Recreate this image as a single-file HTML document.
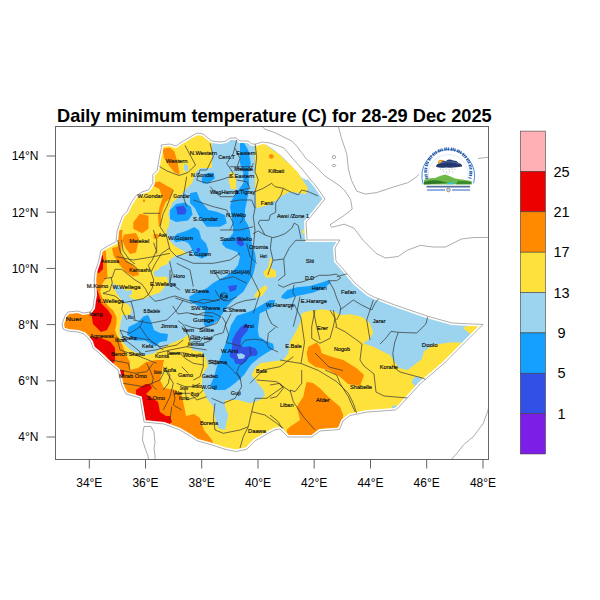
<!DOCTYPE html>
<html><head><meta charset="utf-8">
<style>
html,body{margin:0;padding:0;background:#fff;width:600px;height:600px;overflow:hidden}
svg{display:block;font-family:"Liberation Sans",sans-serif}
</style></head><body>
<svg width="600" height="600" viewBox="0 0 600 600">
<rect width="600" height="600" fill="#fff"/>
<text x="57" y="121.8" font-size="18.2" font-weight="bold" fill="#000">Daily minimum temperature (C) for 28-29 Dec 2025</text>
<defs><clipPath id="eth"><polygon points="161.5,147.6 161,145 170,144 176,146 180,143 190,137 197,133 203,134 208,138 212,141 220,142 226,141 230,138 236,138 240,141 248,141 252,144 256,144 262,142 270,143 276,145 284,148 294,160 302,169 310,179 316,186 325,199 308,220 306,222 307,240 340,240 335,248 336,261 344,270 355,283 368,294 374,297 395,305 427,316 452,323 483,324.5 444.5,363 420,384 399,407 395.5,410 367.5,412 350,415.5 343,421 339.5,429.5 320,431 312,437 288,437 280,429 274.8,429.8 265,435 255.3,440.7 246.7,449.3 235.8,451.5 225,449.3 212,445 196.8,440.7 190,436 179.5,429.8 164,424 144,422 142,410 140,398 126,394 122,386 120,378 118,370 106,360 103,357 98,352 93,348 91,342 88,338 84,334 78,332 68,331 63,329 62,324 65,316 68,312 78,311 83,313 90,312 93,308 94,300 95,295 94.2,280 95,272 98.7,261.3 100.8,250.5 107.3,246.2 116,241.8 117.1,231 119.3,224.5 122.5,215.8 126.8,211.5 131.2,202.8 135.5,196.3 142,192 148.5,189.8 152.8,183.3 152.8,174.7 157.2,170.3 159.3,157.3"/></clipPath></defs>
<polygon points="161.5,147.6 161,145 170,144 176,146 180,143 190,137 197,133 203,134 208,138 212,141 220,142 226,141 230,138 236,138 240,141 248,141 252,144 256,144 262,142 270,143 276,145 284,148 294,160 302,169 310,179 316,186 325,199 308,220 306,222 307,240 340,240 335,248 336,261 344,270 355,283 368,294 374,297 395,305 427,316 452,323 483,324.5 444.5,363 420,384 399,407 395.5,410 367.5,412 350,415.5 343,421 339.5,429.5 320,431 312,437 288,437 280,429 274.8,429.8 265,435 255.3,440.7 246.7,449.3 235.8,451.5 225,449.3 212,445 196.8,440.7 190,436 179.5,429.8 164,424 144,422 142,410 140,398 126,394 122,386 120,378 118,370 106,360 103,357 98,352 93,348 91,342 88,338 84,334 78,332 68,331 63,329 62,324 65,316 68,312 78,311 83,313 90,312 93,308 94,300 95,295 94.2,280 95,272 98.7,261.3 100.8,250.5 107.3,246.2 116,241.8 117.1,231 119.3,224.5 122.5,215.8 126.8,211.5 131.2,202.8 135.5,196.3 142,192 148.5,189.8 152.8,183.3 152.8,174.7 157.2,170.3 159.3,157.3" fill="#FFE13C"/>
<g clip-path="url(#eth)">
<polygon fill="#9CD3EE" points="212,128 345,128 345,200 345,262 370,285 495,320 490,330 470,350 460.7,342.4 449.7,342.4 433,345 424,351.5 422,359 407.5,370 399,368 390,355 383.3,351.7 373.3,346.7 363.3,343.3 368.3,340 373.3,333.3 370,323.3 361.7,316.7 350,314.2 340,315 335,311.7 323.3,309.2 310,310.8 301.7,313.3 300,323.3 295,333.3 290,341.7 288.3,353.3 283.3,360 270,361.7 260,363.3 255,368.3 251.7,375 256.7,381.7 263.3,390 265,395 260,400 250,403.3 238.3,400 225,400 225,406.7 228.3,415 225,430 218.3,428.3 215,418.3 213.3,406.7 206.7,398.3 201.7,385 203,374 208,366 206,358 202,352 192,350 190,340 188,334 184,338 170,344 162,348 152.5,354 142,355.5 130,349.5 122.5,342 119.5,334.5 119.5,328.5 121,321 122.5,315 130,315 131.5,310.5 130,306 122.5,301.5 118,295.5 113.5,288 112,283.5 116.5,285 122.5,288 127,291 131.5,289.5 132.3,294 128.5,295.5 131.5,298.5 137.5,300 145,298.5 151,295.5 160,292.5 165,286.7 168.3,281.7 166.7,276.7 155,276.7 153.3,271.7 158,270 160.5,266.7 167.5,264.3 169.8,259.7 173.3,257.3 176.8,255 183.8,255 186.2,253.8 182.7,250.3 175.7,246.8 171,242.2 167.5,236.3 166.3,230.5 168.7,227 169.8,220 168,214 172,203 180,196 187,188 192,183 196,172 200,168 212,168"/>
<polygon fill="#FFE13C" points="255,128 268,128 266,145 280,155 287,162 296,166 300,176 308,188 306,194 290,191.7 283.3,195 276.7,200 268.3,205 256.7,208.3 255,190"/>
<polygon fill="#FFE13C" points="229,173 234,172 236,178 236,189 231,189 229,182"/>
<polygon fill="#FFE13C" points="263,272 268,268 270,258 272,258 271,268 276,271 276,277 266,278"/>
<polygon fill="#FFE13C" points="254,296 258,290 266,285 267.5,288 262,296 256,298"/>
<polygon fill="#FFE13C" points="302,231 306,228 307,233 303,234"/>
<polygon fill="#FFE13C" points="462.6,327.7 473.6,324 484,324 471.7,335"/>
<polygon fill="#fff" points="262,140 276,143 284,146 294,157 303,167 310,177 306.7,180 301.7,177.7 296.7,171 290,164.3 281.7,156 273.3,149.3 266.7,145"/>
<polygon fill="#9CD3EE" points="184,164 187.5,165 188.7,170 186,172 184,169"/>
<polygon fill="#9CD3EE" points="413,378 419,376.5 422,379 420,385 416,387 412,383"/>
<polygon fill="#9CD3EE" points="392,406 396,405 399,408 398,412 392,412"/>
<polygon fill="#14A0FF" points="240,143.3 243.3,141.7 248.3,150 250.8,163.3 248.3,173.3 249.2,183.3 248.3,193.3 246.7,201.7 245,210 245,220 248,225 250,231 251,240 252,245 255,253 256,260 255,267 253,275 250,280 243.3,291.7 235,298.3 226.7,306.7 221.7,315 218.3,320 211.7,325 205,326.7 203.3,321.7 205,310 196.7,305 190,301.7 189.2,296.7 195,293.3 206.7,288.3 213,283 220,279 228,275 234,270 238,265 240,257 237,252 232,250 226,248 222,244 223,240 230,237 233,233 233.3,230 231.7,216.7 230,206.7 231.7,200 238.3,190 243.3,183.3 243.3,173.3 240,163.3"/>
<polygon fill="#14A0FF" points="231,325.2 236.8,315.8 248.5,312 263,306 270.5,300 275,300 273.3,305 260,310.5 257.8,329.8 259,336.8 267.2,341.5 273,343.8 274.2,348.5 266,353.2 259,357.8 250.8,364.8 243.8,375.3 237.5,381 230,387 225,390 214,390 210,386 213.5,378 217,366 221.7,354.3 226.3,341.5"/>
<polygon fill="#14A0FF" points="240,320 253,310 270,300 275,301.7 273.3,306.7 256.7,315 248.3,320"/>
<polygon fill="#14A0FF" points="282,295.3 287.3,290 296.7,287.3 310,286 323.3,282 328.7,280 330.7,282.7 323.3,288.7 312.7,292.7 296.7,296 286,299.3 281.3,298"/>
<polygon fill="#14A0FF" points="190,193.3 196.7,191.7 200,200 208.3,210 216.7,211.7 225,215 226.7,223.3 220,226.7 206.7,226.7 200,218.3 195,208.3 190,203.3"/>
<polygon fill="#14A0FF" points="170,210 176,204 185,202.5 191,207 192.5,214.5 188,220.5 176,222 170,219"/>
<polygon fill="#14A0FF" points="173.3,237.5 176.8,234 187.3,230.5 194.3,227 199,230.5 201.3,238.7 206,243.3 208.3,250.3 207.2,256.2 201.3,258.5 194.3,255 192,249.2 188.5,243.3 183.8,241 175.7,242.2 173.3,239.8"/>
<polygon fill="#14A0FF" points="201.7,178.3 206.7,173.3 213.3,172.5 215,178.3 208.3,183.3 202.5,183.3"/>
<polygon fill="#14A0FF" points="128.5,327 137.5,322.5 143.5,316.5 148,315 151,321 154,330 160,333 168,334 167,341 160,342 155.5,346.5 145,340.5 134.5,340.5 127,334.5"/>
<polygon fill="#3050E6" points="176,207 183.5,205.5 186.5,210 185,214.5 177.5,214.5"/>
<polygon fill="#3050E6" points="236,238 239,236.5 243,240 244,245 241,246.5 237,244"/>
<polygon fill="#3050E6" points="228,286 237,285 236,290 230,292"/>
<polygon fill="#3050E6" points="245,324 249.7,325.2 247.3,331 241.5,338 240.3,345 243.8,347.3 249.7,346.2 255.5,348.5 257.8,352 256.7,355.5 248.5,356.7 246.2,361.3 241.5,364.8 235.7,363.7 233.3,359 229.8,356.7 229.8,353.2 232.2,347.3 232.2,340.3 235.7,333.3 240.3,327.5"/>
<polygon fill="#3050E6" points="196.7,248 200.2,248.5 200.2,251.5 197,251.5"/>
<polygon fill="#9CD3EE" points="236.8,354 241,353.2 245,355 244,358.5 238.5,359"/>
<polygon fill="#FF8A00" points="162.5,148.5 170,147.7 174.5,151.5 177.5,162 179.7,174.7 174.5,172.5 168.5,165 164,157.5"/>
<polygon fill="#FF8A00" points="143,199.5 145,199.5 145,202 143,202"/>
<polygon fill="#FF8A00" points="152,183 159.5,181.5 167,186 173,189 170,198 165.5,202.5 162.5,210 161,216 161,226 158.8,226 158,216 159.5,207 162.5,198 159.5,189 153.5,186"/>
<polygon fill="#FF8A00" points="133.3,222.3 139.8,213.7 148.5,215.8 148.5,228.8 142,233.2 133.3,228.8"/>
<polygon fill="#FF8A00" points="124,234.5 136,233 139,239 136,252.5 130,254 125.5,248 122,240"/>
<polygon fill="#FF8A00" points="112,248 118,246.5 118,230 122.5,230 121,255.5 130,263 137.5,269 139,275 133,276.5 125.5,272 118,263 113.5,255.5"/>
<polygon fill="#FF8A00" points="153.5,234 158.2,234 158.2,238.7 153.5,238.7"/>
<polygon fill="#FF8A00" points="95,240 104.5,246.5 106,252.5 107.5,276.5 103,282.5 100,291.5 103,299 107.5,305 113.5,311 116.5,317 116.5,324 115,330 116.5,334.5 122.5,345 125.5,354 130,362 130,370 138,368 146,362 156,360 164,360 162,370 160,380 164,388 176,390 182,396 184,406 186,416 194,414 200,418 204,430 212,440 216,452 100,460 50,340 50,300 90,245"/>
<polygon fill="#FF8A00" points="306.7,353.3 308.3,346.7 316.7,342.5 320,346.7 321.7,353.3 331.7,356.7 343.3,360 356.7,368.3 364,375 360,386 348,384 340,376.7 328.3,370 315,366.7 308.3,361.7"/>
<polygon fill="#FF8A00" points="306.7,381.7 313.3,383.3 320,388.3 328.3,396.7 340,406.7 343.3,415 341.7,425 336.7,428.3 316.7,431.7 311.7,440 288,440 286.7,430 290,426.7 300,420 296.7,406.7 303.3,396.7 305,388.3"/>
<polygon fill="#FF8A00" points="271.3,154 273,154.6 273.7,156.4 273,158.2 271.3,158.8 269.6,158.2 268.9,156.4 269.6,154.6"/>
<polygon fill="#EC0000" points="97.7,255.5 103,255.5 103,269 98.5,273.5 95,268"/>
<polygon fill="#EC0000" points="92,286 96,286 100,298 101,303 108,310 112,316 111,322 107,330 101,332 93,324 91,312 90,290"/>
<polygon fill="#EC0000" points="90,337 100,337.5 110.5,342 115,348 115,360 113,364 105,355 93,347"/>
<polygon fill="#EC0000" points="118,370 124,370 124,376 120,378"/>
<polygon fill="#EC0000" points="136,390 142,386 146,384 150,384 152,388 146,394 158,402 160,412 166,416 170,416 172,422 166,426 144,426 142,410 140,398 136,394"/>
</g>
<polygon points="161.5,147.6 161,145 170,144 176,146 180,143 190,137 197,133 203,134 208,138 212,141 220,142 226,141 230,138 236,138 240,141 248,141 252,144 256,144 262,142 270,143 276,145 284,148 294,160 302,169 310,179 316,186 325,199 308,220 306,222 307,240 340,240 335,248 336,261 344,270 355,283 368,294 374,297 395,305 427,316 452,323 483,324.5 444.5,363 420,384 399,407 395.5,410 367.5,412 350,415.5 343,421 339.5,429.5 320,431 312,437 288,437 280,429 274.8,429.8 265,435 255.3,440.7 246.7,449.3 235.8,451.5 225,449.3 212,445 196.8,440.7 190,436 179.5,429.8 164,424 144,422 142,410 140,398 126,394 122,386 120,378 118,370 106,360 103,357 98,352 93,348 91,342 88,338 84,334 78,332 68,331 63,329 62,324 65,316 68,312 78,311 83,313 90,312 93,308 94,300 95,295 94.2,280 95,272 98.7,261.3 100.8,250.5 107.3,246.2 116,241.8 117.1,231 119.3,224.5 122.5,215.8 126.8,211.5 131.2,202.8 135.5,196.3 142,192 148.5,189.8 152.8,183.3 152.8,174.7 157.2,170.3 159.3,157.3" fill="none" stroke="#fff" stroke-width="4"/>
<g fill="none" stroke="#888" stroke-width="0.7">
<polyline points="261.7,126 265,129.3 275,132.7 285,137.7 291.7,141 296.7,146 301.7,152.7 306.7,159.3 313.3,164.3 318.3,169.3 325,176 335,182.7 340,186 344.3,190 350.6,199.5 352.2,209 344.3,215.3 334.8,221.6 330,224.8 331.6,227.3 344.3,224.2 353.8,228 363.3,240.6 376,253.3 385.4,258 398.1,256.5 407.6,250.1 420.3,245.4 432.9,247 445.6,247 461.4,239 474,237.5 488.5,237.5"/>
<polyline points="338.4,126.5 341.2,137.3 346.9,154.3 348.3,168.5 351.2,179.8 356.8,191.2 365.3,194 376.7,192.6 393.7,186.9 407.8,182.7 416.3,177 419.2,174.2 430,168 470,160 477.2,158.6 488.5,157.2"/>
<ellipse cx="334" cy="157" rx="1.8" ry="1.5"/>
<ellipse cx="334" cy="165.5" rx="1.8" ry="1.2"/>
<polyline points="488.5,408 487.5,411.7 483.3,423.3 473.3,436.7 463.3,445 458.3,451.7 451.7,459"/>
<path d="M148.5,459.5 L148,456 145,448 142.5,440 143,432 144,426.5 151,426.5 154,432 155,443 154,448 155,456 155,459.5"/>
</g>
<!--admin--><circle cx="223.8" cy="296.3" r="3.6" fill="none" stroke="#333" stroke-width="0.7"/><g clip-path="url(#eth)" fill="none" stroke="#333" stroke-width="0.7" stroke-linejoin="round"><polyline points="185,145.5 195.5,165 188,172.5 179,175.5 167,171 159.5,166.5"/>
<polyline points="210,143.3 213.3,156.7 206.7,170 200,170"/>
<polyline points="200,170 196.7,180 206.7,183.3 220,180 230,176.7 233.3,173.3"/>
<polyline points="236.7,140 233.3,153.3 226.7,163.3 233.3,173.3"/>
<polyline points="230,166.7 253.3,166.7"/>
<polyline points="236.7,180 246.7,181.7 250,188.3 240,190"/>
<polyline points="230,201.7 240,200 251.7,200 255,208.3"/>
<polyline points="238.3,213.3 243.3,218.3 240,223.3"/>
<polyline points="258.3,223 265,235 273,237.7 278.3,236.3 285,233.7 291.7,228.3 294.3,223 298.3,225.7 301,239"/>
<polyline points="235,148.3 240,158.3 236.7,168.3 250,170 253.3,163.3"/>
<polyline points="186.7,176.7 183.3,196.7 186.7,206.7"/>
<polyline points="173.3,190 166.7,206.7 163.3,213.3 160,226.7 166.7,236.7"/>
<polyline points="210,186.7 220,196.7 233.3,196.7 240,190"/>
<polyline points="193.3,200 213.3,206.7 226.7,210 233.3,223.3 230,230"/>
<polyline points="143.3,213.3 160,213.3"/>
<polyline points="166.7,236.7 170,250 176.7,256.7 193.3,250"/>
<polyline points="153.3,230 156.7,240 156.7,253.3"/>
<polyline points="116.7,256.7 133.3,260 153.3,256.7 170,253.3"/>
<polyline points="104.3,278.7 112.3,277.3 115,269.3 121.7,269.3 128.3,274.7 135,280 141.7,284 145.7,289.3 148.3,294.7"/>
<polyline points="117.7,240 120.3,252 125.7,261.3 133.7,265.3 137.7,269.3"/>
<polyline points="121.7,240 123,250.7 129.7,260 135,264"/>
<polyline points="153.7,242.7 156.3,250.7 152.3,260 148.3,265.3 151,272 153.7,280 152.3,288 148.3,294.7"/>
<polyline points="169.7,248 161.7,253.3 155,264 151,272"/>
<polyline points="169.7,261.3 172.3,273.3 169.7,282.7"/>
<polyline points="170,270 170,283.3 180,290"/>
<polyline points="176.7,263.3 190,270 193.3,286.7"/>
<polyline points="176.7,256.7 193.3,263.3 213.3,263.3 230,260 240,253.3"/>
<polyline points="111,277.3 112.3,282.7 109.7,290.7 103,293.3"/>
<polyline points="103,293.3 115,296 123,302.7 121.7,309.3 124.3,314.7 127,320"/>
<polyline points="123,302.7 131,301.3 143,298.7 148.3,294.7"/>
<polyline points="131,301.3 133.7,310.7 135,320"/>
<polyline points="148.3,294.7 155,301.3 161.7,300 169.7,297.3 175,296 186.7,300"/>
<polyline points="213.3,270 220,280 233.3,276.7 246.7,283.3"/>
<polyline points="186.7,300 203.3,303.3 220,300"/>
<polyline points="190,313.3 213.3,316.7"/>
<polyline points="220,230 240,230 253.3,226.7"/>
<polyline points="246.7,243.3 250,256.7 256.7,263.3"/>
<polyline points="255,143.3 256.7,156.7 255,171.7 258.3,180 255,191.7 255,208.3 253.3,216.7 255,230 253.3,246.7 250,273.3 260,293.3 253.3,313.3"/>
<polyline points="255,191.7 263.3,188.3 271.7,183.3 275,186.7 283.3,188.3 290,191.7 298.3,195 301.7,190 308.3,191.7 318,196"/>
<polyline points="283.3,188.3 281,195 275.7,203 275.7,212.3 270.3,215 269,220.3 259.7,220.3 258.3,223"/>
<polyline points="271.7,237.7 270.3,248.3 273,260.3 283.7,259 289,248.3 295.7,240.3 306.3,240.3"/>
<polyline points="283.7,259 285,275 278,280.7"/>
<polyline points="273,260.3 267.7,275"/>
<polyline points="278,284.7 283.3,287.3 292.7,283.3 302,282 310,279.3 319.3,275.3 328.7,275.3 336.7,274 340.7,278 336.7,280.7 328.7,280.7"/>
<polyline points="294,284.7 292.7,292.7 295.3,296.7 292.7,303.3 291.3,310"/>
<polyline points="328.7,280.7 334,290 336.7,298 340.7,307.3 340,313.3 336.7,320"/>
<polyline points="300,296.7 296.7,313.3 293.3,326.7"/>
<polyline points="313.3,310 316.7,326.7 320,340"/>
<polyline points="333.3,310 336.7,326.7"/>
<polyline points="373.3,300 366.7,320 370,340"/>
<polyline points="266,310 268.3,317 271.8,324 277.7,327.5"/>
<polyline points="267.2,343.8 268.3,333.3 275.3,327.5"/>
<polyline points="253,233.7 258.3,231 265,235"/>
<polyline points="133.3,320 150,323.3 166.7,320 176.7,310 183.3,300"/>
<polyline points="130,336.7 150,340 163.3,350"/>
<polyline points="116.7,336.7 120,350 140,356.7 156.7,363.3"/>
<polyline points="156.7,353.3 170,350 186.7,346.7 206.7,350"/>
<polyline points="123.3,383.3 143.3,386.7 160,380 166.7,366.7"/>
<polyline points="163.3,366.7 173.3,383.3 170,396.7 163.3,410"/>
<polyline points="176.7,393.3 190,393.3 196.7,400 206.7,396.7"/>
<polyline points="215,403.3 213.3,418.3 215,430 223.3,433.3 240,430 248.3,426.7"/>
<polyline points="211.7,398.3 223.3,403.3 235,398.3 241.7,386.7 240,376.7 233.3,371.7"/>
<polyline points="255,398.3 251.7,411.7 248.3,426.7 243.3,436.7 240,448"/>
<polyline points="251.7,411.7 265,415 276.7,423.3 283.3,428.3"/>
<polyline points="250,383.3 263.3,370 280,366.7 293.3,356.7"/>
<polyline points="256.7,380 276.7,381.7 283.3,386.7 266.7,398.3 255,398.3"/>
<polyline points="249.7,347.3 250.8,354.3 245,361.3 239.2,366 236.8,371.8 240.3,380"/>
<polyline points="232.2,343.8 240.3,346.2 245,340.3 254.3,339.2 262.5,340.3 267.2,343.8 268.3,347.3 273,349.7 278,352"/>
<polyline points="340,310 353.3,300 361.7,305 371.7,310 375,303.3 380,297"/>
<polyline points="294,304 301,318 304.5,342.5 301,363.5"/>
<polyline points="315,310 311.7,326.7 311.7,338.3 320,343.3 330,338.3 333.3,326.7 335,318.3 330,310"/>
<polyline points="335,326.7 345,331.7 356.7,340 362,344"/>
<polyline points="427.7,316.7 425.9,324 416.7,333 398.3,332.3 391,331.4 385.5,338.7 380,344"/>
<polyline points="398.3,332.3 394.7,342.4 392.8,353.4 394.7,368 400,372 423.3,378.3 428,381"/>
<polyline points="362,344 360,360 364,366 374,374 376,392 384,396 408,398"/>
<polyline points="280,360 301,363.5 318.5,370.5 336.7,381.7 348.3,393.3 353.3,403.3 356.7,413.3"/>
<polyline points="290,390 295,391.7 301.7,383.3 301.7,370"/>
<polyline points="290,390 293.3,401.7 296.7,406.7 303.3,416.7 315,430"/>
<polyline points="270,385 280,383.3 283.3,388.3 276.7,396.7 270,398.3"/>
<polyline points="325,370 336.7,375 340,383.3 348.3,396.7 355,411.7"/>
<polyline points="270,415 278.3,421.7 281.7,428.3"/>
<polyline points="280,384.5 290.5,391.5"/>
<polyline points="315,353 329,367 343,370.5"/>
<polyline points="336.7,276.7 360,270 380,290"/>
<polyline points="120,330 130,333.3 140,326.7 143.3,320"/>
<polyline points="120,330 125,340 131.7,345 140,351.7 143.3,355"/>
<polyline points="140,326.7 146.7,336.7 151.7,341.7 160,346.7 168.3,345"/>
<polyline points="110,360 120,361.7 128.3,363.3 130,370"/>
<polyline points="145,351.7 155,350 168.3,346.7 176.7,345 183.3,340"/>
<polyline points="120,370 135,373.3 146.7,371.7 153.3,363.3"/>
<polyline points="146.7,363.3 150,370 153.3,378.3 151.7,385 156.7,390"/>
<polyline points="165,368.3 170,375 168.3,383.3 163.3,390"/>
<polyline points="168.3,353.3 180,353.3 185,358.3 193.3,363.3 203.3,365"/>
<polyline points="176.7,383.3 185,386.7 193.3,386.7 200,383.3"/>
<polyline points="173.3,390 175,398.3 173.3,405 181.7,410"/>
<polyline points="185,390 186.7,400 196.7,396.7 203.3,390"/>
<polyline points="186.7,346.7 193.3,341.7 200,341.7 203.3,336.7"/>
<polyline points="181.7,326.7 188.3,335 190,341.7"/>
<polyline points="203.3,353.3 203.3,366.7 200,376.7 193.3,380"/>
<polyline points="181.7,366.7 188.3,373.3"/>
<polyline points="171.7,406.7 170,420"/>
<polyline points="175.3,298 183.3,300.7 191.3,303.3 203.3,299.3 214,300.7 223.3,298"/>
<polyline points="187.3,312.7 196.7,315.3 203.3,312.7 212.7,312.7 220.7,316.7"/>
<polyline points="184.7,324.7 191.3,327.3 199.3,328.7 208.7,326 216.7,323.3 220.7,316.7"/>
<polyline points="223.3,308.7 230,307.3 236.7,303.3 244.7,300.7 256,299"/>
<polyline points="222,316.7 226,323.3 223.3,332.7 214,335.3 210,340.7 203.3,343.3"/>
<polyline points="191.3,335.3 198,336.7 204.7,339.3 212.7,338"/>
<polyline points="231,313.5 225.2,325.2 228.7,334.5 226.3,342.7 232.2,343.8"/>
<polyline points="210,360.2 219.3,361.3 227.5,364.8 233.3,370.7"/>
<polyline points="178,320.7 183.3,324.7 187.3,332.7"/>
<polyline points="172.7,306 178,314 187.3,312.7"/>
<polyline points="215.3,290 218,295.3 223.3,300.7 228.7,300.7 236.7,296.7"/>
<polyline points="170,354 183.3,352.7 192.7,355.3 203.3,356.7"/>
<polyline points="208.7,360.7 215.3,364.7 220.7,362"/></g>
<polygon points="161.5,147.6 161,145 170,144 176,146 180,143 190,137 197,133 203,134 208,138 212,141 220,142 226,141 230,138 236,138 240,141 248,141 252,144 256,144 262,142 270,143 276,145 284,148 294,160 302,169 310,179 316,186 325,199 308,220 306,222 307,240 340,240 335,248 336,261 344,270 355,283 368,294 374,297 395,305 427,316 452,323 483,324.5 444.5,363 420,384 399,407 395.5,410 367.5,412 350,415.5 343,421 339.5,429.5 320,431 312,437 288,437 280,429 274.8,429.8 265,435 255.3,440.7 246.7,449.3 235.8,451.5 225,449.3 212,445 196.8,440.7 190,436 179.5,429.8 164,424 144,422 142,410 140,398 126,394 122,386 120,378 118,370 106,360 103,357 98,352 93,348 91,342 88,338 84,334 78,332 68,331 63,329 62,324 65,316 68,312 78,311 83,313 90,312 93,308 94,300 95,295 94.2,280 95,272 98.7,261.3 100.8,250.5 107.3,246.2 116,241.8 117.1,231 119.3,224.5 122.5,215.8 126.8,211.5 131.2,202.8 135.5,196.3 142,192 148.5,189.8 152.8,183.3 152.8,174.7 157.2,170.3 159.3,157.3" fill="none" stroke="#999" stroke-width="0.8"/>
<g font-size="6" fill="#111" stroke="#111" stroke-width="0.18">
<text x="189.7" y="155.3" textLength="27.3" lengthAdjust="spacingAndGlyphs">N.Western</text>
<text x="218.3" y="158.7" textLength="16.7" lengthAdjust="spacingAndGlyphs">Cent.T</text>
<text x="236.3" y="155.3" textLength="19.4" lengthAdjust="spacingAndGlyphs">Eastern</text>
<text x="234.3" y="171.3" textLength="18.7" lengthAdjust="spacingAndGlyphs">Mekele</text>
<text x="229.0" y="178.0" textLength="25.3" lengthAdjust="spacingAndGlyphs">S.Eastern</text>
<text x="191.0" y="176.7" textLength="22.7" lengthAdjust="spacingAndGlyphs">N.Gondar</text>
<text x="165.8" y="162.5" textLength="21.7" lengthAdjust="spacingAndGlyphs">Western</text>
<text x="268.3" y="173.3" textLength="15.9" lengthAdjust="spacingAndGlyphs">Kilbati</text>
<text x="260.8" y="204.5" textLength="12.5" lengthAdjust="spacingAndGlyphs">Fanti</text>
<text x="277.0" y="218.0" textLength="32.0" lengthAdjust="spacingAndGlyphs">Awsi /Zone 1</text>
<text x="210.0" y="193.5" textLength="28.3" lengthAdjust="spacingAndGlyphs">WagHamra</text>
<text x="235.0" y="193.5" textLength="20.0" lengthAdjust="spacingAndGlyphs">B.Tigray</text>
<text x="226.0" y="216.5" textLength="20.0" lengthAdjust="spacingAndGlyphs">N.Wello</text>
<text x="193.0" y="221.3" textLength="25.0" lengthAdjust="spacingAndGlyphs">S.Gondar</text>
<text x="137.5" y="198.3" textLength="25.0" lengthAdjust="spacingAndGlyphs">W.Gondar</text>
<text x="173.3" y="198.3" textLength="16.7" lengthAdjust="spacingAndGlyphs">Gondar</text>
<text x="129.2" y="242.5" textLength="20.0" lengthAdjust="spacingAndGlyphs">Metekel</text>
<text x="158.3" y="236.7" textLength="8.4" lengthAdjust="spacingAndGlyphs">Awi</text>
<text x="168.0" y="239.5" textLength="25.0" lengthAdjust="spacingAndGlyphs">W.Gojam</text>
<text x="220.0" y="241.0" textLength="32.0" lengthAdjust="spacingAndGlyphs">South Wello</text>
<text x="249.0" y="249.0" textLength="19.0" lengthAdjust="spacingAndGlyphs">Oromia</text>
<text x="189.0" y="255.5" textLength="22.0" lengthAdjust="spacingAndGlyphs">E.Gojam</text>
<text x="260.0" y="257.8" textLength="7.0" lengthAdjust="spacingAndGlyphs">Hari</text>
<text x="100.8" y="263.3" textLength="18.4" lengthAdjust="spacingAndGlyphs">Assosa</text>
<text x="129.2" y="271.7" textLength="20.8" lengthAdjust="spacingAndGlyphs">Kamashi</text>
<text x="305.8" y="263.3" textLength="8.4" lengthAdjust="spacingAndGlyphs">Siti</text>
<text x="210.0" y="274.0" textLength="20.0" lengthAdjust="spacingAndGlyphs">NSHI(OR)</text>
<text x="231.0" y="274.0" textLength="19.0" lengthAdjust="spacingAndGlyphs">NSHI(AM)</text>
<text x="173.3" y="278.3" textLength="11.7" lengthAdjust="spacingAndGlyphs">Horo</text>
<text x="305.0" y="280.3" textLength="9.2" lengthAdjust="spacingAndGlyphs">D.D</text>
<text x="150.0" y="285.8" textLength="25.8" lengthAdjust="spacingAndGlyphs">E.Wellega</text>
<text x="86.7" y="288.0" textLength="21.6" lengthAdjust="spacingAndGlyphs">M.Komo</text>
<text x="112.5" y="288.5" textLength="28.0" lengthAdjust="spacingAndGlyphs">W.Wellega</text>
<text x="311.7" y="290.0" textLength="15.0" lengthAdjust="spacingAndGlyphs">Harari</text>
<text x="185.0" y="293.0" textLength="24.0" lengthAdjust="spacingAndGlyphs">W.Shewa</text>
<text x="341.0" y="293.5" textLength="15.0" lengthAdjust="spacingAndGlyphs">Fafan</text>
<text x="220.0" y="298.0" textLength="8.0" lengthAdjust="spacingAndGlyphs">Ka</text>
<text x="300.8" y="302.5" textLength="26.2" lengthAdjust="spacingAndGlyphs">E.Hararge</text>
<text x="97.5" y="303.0" textLength="26.5" lengthAdjust="spacingAndGlyphs">K.Wellega</text>
<text x="266.0" y="307.0" textLength="28.0" lengthAdjust="spacingAndGlyphs">W.Hararge</text>
<text x="191.0" y="310.0" textLength="29.0" lengthAdjust="spacingAndGlyphs">SW.Shewa</text>
<text x="223.0" y="312.0" textLength="23.0" lengthAdjust="spacingAndGlyphs">E.Shewa</text>
<text x="143.5" y="312.6" textLength="16.5" lengthAdjust="spacingAndGlyphs">B.Bedele</text>
<text x="89.2" y="315.8" textLength="13.3" lengthAdjust="spacingAndGlyphs">Itang</text>
<text x="127.7" y="318.5" textLength="6.0" lengthAdjust="spacingAndGlyphs">Ilu</text>
<text x="65.8" y="320.8" textLength="15.9" lengthAdjust="spacingAndGlyphs">Nuer</text>
<text x="193.0" y="322.0" textLength="21.0" lengthAdjust="spacingAndGlyphs">Gurage</text>
<text x="372.8" y="322.6" textLength="12.7" lengthAdjust="spacingAndGlyphs">Jarar</text>
<text x="160.8" y="327.8" textLength="16.7" lengthAdjust="spacingAndGlyphs">Jimma</text>
<text x="244.0" y="328.0" textLength="10.0" lengthAdjust="spacingAndGlyphs">Arsi</text>
<text x="317.0" y="330.0" textLength="11.0" lengthAdjust="spacingAndGlyphs">Erer</text>
<text x="182.0" y="331.6" textLength="12.0" lengthAdjust="spacingAndGlyphs">Yem</text>
<text x="199.0" y="332.0" textLength="15.0" lengthAdjust="spacingAndGlyphs">Siltie</text>
<text x="90.0" y="338.3" textLength="24.2" lengthAdjust="spacingAndGlyphs">Agnewak</text>
<text x="121.7" y="339.5" textLength="15.0" lengthAdjust="spacingAndGlyphs">Sheka</text>
<text x="190.0" y="340.0" textLength="10.0" lengthAdjust="spacingAndGlyphs">Had</text>
<text x="204.0" y="340.0" textLength="8.0" lengthAdjust="spacingAndGlyphs">Hal</text>
<text x="115.0" y="342.0" textLength="11.7" lengthAdjust="spacingAndGlyphs">Mizan</text>
<text x="188.0" y="346.0" textLength="16.0" lengthAdjust="spacingAndGlyphs">Kembata</text>
<text x="421.8" y="347.3" textLength="15.7" lengthAdjust="spacingAndGlyphs">Doolo</text>
<text x="142.0" y="348.0" textLength="11.2" lengthAdjust="spacingAndGlyphs">Kefa</text>
<text x="285.3" y="348.0" textLength="16.4" lengthAdjust="spacingAndGlyphs">E.Bale</text>
<text x="334.0" y="350.5" textLength="16.0" lengthAdjust="spacingAndGlyphs">Nogob</text>
<text x="221.0" y="353.3" textLength="17.0" lengthAdjust="spacingAndGlyphs">W.Arsi</text>
<text x="155.0" y="358.0" textLength="14.0" lengthAdjust="spacingAndGlyphs">Konta</text>
<text x="167.0" y="355.0" textLength="13.0" lengthAdjust="spacingAndGlyphs">Dawuro</text>
<text x="183.0" y="357.0" textLength="21.0" lengthAdjust="spacingAndGlyphs">Wolayita</text>
<text x="111.0" y="356.4" textLength="34.0" lengthAdjust="spacingAndGlyphs">Bench Sheko</text>
<text x="208.0" y="364.0" textLength="19.0" lengthAdjust="spacingAndGlyphs">Sidama</text>
<text x="379.8" y="369.3" textLength="18.2" lengthAdjust="spacingAndGlyphs">Korahe</text>
<text x="163.0" y="372.0" textLength="13.0" lengthAdjust="spacingAndGlyphs">Gofa</text>
<text x="256.0" y="372.5" textLength="11.0" lengthAdjust="spacingAndGlyphs">Bale</text>
<text x="154.0" y="374.0" textLength="8.0" lengthAdjust="spacingAndGlyphs">Basketo</text>
<text x="178.0" y="377.0" textLength="15.0" lengthAdjust="spacingAndGlyphs">Gamo</text>
<text x="201.7" y="378.3" textLength="16.3" lengthAdjust="spacingAndGlyphs">Gedeo</text>
<text x="119.0" y="378.0" textLength="28.0" lengthAdjust="spacingAndGlyphs">Mirab Omo</text>
<text x="192.0" y="388.0" textLength="9.0" lengthAdjust="spacingAndGlyphs">Amaro</text>
<text x="201.0" y="388.5" textLength="16.0" lengthAdjust="spacingAndGlyphs">W.Guji</text>
<text x="350.0" y="388.6" textLength="22.0" lengthAdjust="spacingAndGlyphs">Shabelle</text>
<text x="180.0" y="390.0" textLength="8.0" lengthAdjust="spacingAndGlyphs">Deraske</text>
<text x="230.8" y="394.5" textLength="10.0" lengthAdjust="spacingAndGlyphs">Guji</text>
<text x="174.0" y="394.5" textLength="8.0" lengthAdjust="spacingAndGlyphs">Ale</text>
<text x="191.0" y="396.0" textLength="8.0" lengthAdjust="spacingAndGlyphs">Burji</text>
<text x="147.0" y="400.0" textLength="18.0" lengthAdjust="spacingAndGlyphs">S.Omo</text>
<text x="179.0" y="400.0" textLength="10.0" lengthAdjust="spacingAndGlyphs">Konso</text>
<text x="316.0" y="401.5" textLength="13.7" lengthAdjust="spacingAndGlyphs">Afder</text>
<text x="280.0" y="407.3" textLength="13.5" lengthAdjust="spacingAndGlyphs">Liban</text>
<text x="200.0" y="425.3" textLength="18.0" lengthAdjust="spacingAndGlyphs">Borena</text>
<text x="248.0" y="433.0" textLength="18.0" lengthAdjust="spacingAndGlyphs">Daawa</text>
</g>
<g id="logo">
<rect x="419" y="146" width="59" height="47" fill="#fff"/>
<path d="M423.2,184.3 A26.4,26.4 0 1 1 473.6,183.2" fill="none" stroke="#3d8fe6" stroke-width="1"/>
<path d="M429,180 A20,20 0 1 1 467.6,179.5" fill="none" stroke="#bfe0f5" stroke-width="0.6"/>
<path d="M427,179 A22.6,22.6 0 1 1 469.8,178.5" fill="none" stroke="#1f4fa0" stroke-width="3" stroke-dasharray="1.4 0.5 1.1 0.6 1.3 1.6" opacity="0.9"/>
<circle cx="441.3" cy="163" r="3.2" fill="#f09020"/>
<circle cx="441.3" cy="163" r="1.9" fill="#ffd040"/>
<path d="M436,166.8 Q436.5,163.5 440,163.5 Q442,160 446,161 Q449,158.5 453,160.5 Q457,160 458.5,163 Q462.5,164 462,166.5 Q455,168 446,167.5 Q440,168.5 436,166.8Z" fill="#22386e"/>
<path d="M441,163 Q446,161 452,162 Q456,162 459,164" stroke="#6a90c8" stroke-width="0.7" fill="none"/>
<g fill="#3a5a90"><circle cx="440.5" cy="169" r="0.4"/><circle cx="443" cy="169.5" r="0.4"/><circle cx="446" cy="169" r="0.4"/><circle cx="449" cy="169.5" r="0.4"/><circle cx="452" cy="169" r="0.4"/><circle cx="455" cy="169.3" r="0.4"/><circle cx="443.5" cy="171.5" r="0.4"/><circle cx="446.5" cy="172" r="0.4"/><circle cx="449.5" cy="171.5" r="0.4"/><circle cx="452.5" cy="172" r="0.4"/><circle cx="448" cy="173.8" r="0.4"/></g>
<path d="M424,180 Q430,177.5 435,178 Q440,175.5 445,174.5 Q450,176 455,178.5 Q464,179.5 471.5,181 L471.5,184.2 L424,184.5Z" fill="#6cb848"/>
<path d="M424,182 Q431,179.5 438,180.5 Q444,181.5 448,183 L424,184.5Z" fill="#2f7a2a"/>
<path d="M458,181 Q465,180.5 471.5,182 L471.5,184.2 L456,184.2Z" fill="#3a8a30"/>
<path d="M446,184.2 Q449,182 455,181.2 Q452,183 453,184.2Z" fill="#35c0e8"/>
<rect x="426.5" y="185.8" width="43.5" height="1.7" fill="#1f3f80" opacity="0.75"/>
<rect x="427" y="189.3" width="18" height="1.4" fill="#4a7ad0" opacity="0.85"/>
<rect x="452" y="189.3" width="18" height="1.4" fill="#4a7ad0" opacity="0.85"/>
<circle cx="448.5" cy="190" r="1.8" fill="#ddd" stroke="#555" stroke-width="0.6"/>
</g>

<g stroke="#666" stroke-width="1" fill="none">
<rect x="55.5" y="126.5" width="433" height="333"/>
<path d="M89.3,459.5v9 M145.5,459.5v9 M201.7,459.5v9 M258,459.5v9 M314.2,459.5v9 M370.5,459.5v9 M426.7,459.5v9 M483,459.5v9"/>
<path d="M55.5,156h-9 M55.5,212.2h-9 M55.5,268.4h-9 M55.5,324.6h-9 M55.5,380.8h-9 M55.5,437h-9"/>
</g>
<g font-size="12" fill="#000" text-anchor="middle">
<text x="89.3" y="486.7">34°E</text><text x="145.5" y="486.7">36°E</text><text x="201.7" y="486.7">38°E</text><text x="258" y="486.7">40°E</text><text x="314.2" y="486.7">42°E</text><text x="370.5" y="486.7">44°E</text><text x="426.7" y="486.7">46°E</text><text x="483" y="486.7">48°E</text>
</g>
<g font-size="12" fill="#000" text-anchor="end">
<text x="38.5" y="160.3">14°N</text><text x="38.5" y="216.5">12°N</text><text x="38.5" y="272.7">10°N</text><text x="38.5" y="328.9">8°N</text><text x="38.5" y="385.1">6°N</text><text x="38.5" y="441.3">4°N</text>
</g>
<g stroke="#444" stroke-width="0.6">
<rect x="520.3" y="131.10" width="25.2" height="40.36" fill="#FFB0B4"/>
<rect x="520.3" y="171.46" width="25.2" height="40.36" fill="#EC0000"/>
<rect x="520.3" y="211.82" width="25.2" height="40.36" fill="#FF8A00"/>
<rect x="520.3" y="252.18" width="25.2" height="40.36" fill="#FFE13C"/>
<rect x="520.3" y="292.54" width="25.2" height="40.36" fill="#9CD3EE"/>
<rect x="520.3" y="332.90" width="25.2" height="40.36" fill="#14A0FF"/>
<rect x="520.3" y="373.26" width="25.2" height="40.36" fill="#3050E6"/>
<rect x="520.3" y="413.62" width="25.2" height="40.36" fill="#7D1EE6"/>
</g>
<g font-size="14.5" fill="#000"><text x="553.5" y="176.66">25</text><text x="553.5" y="217.02">21</text><text x="553.5" y="257.38">17</text><text x="553.5" y="297.74">13</text><text x="557.5" y="338.10">9</text><text x="557.5" y="378.46">5</text><text x="557.5" y="418.82">1</text></g>
</svg>
</body></html>
